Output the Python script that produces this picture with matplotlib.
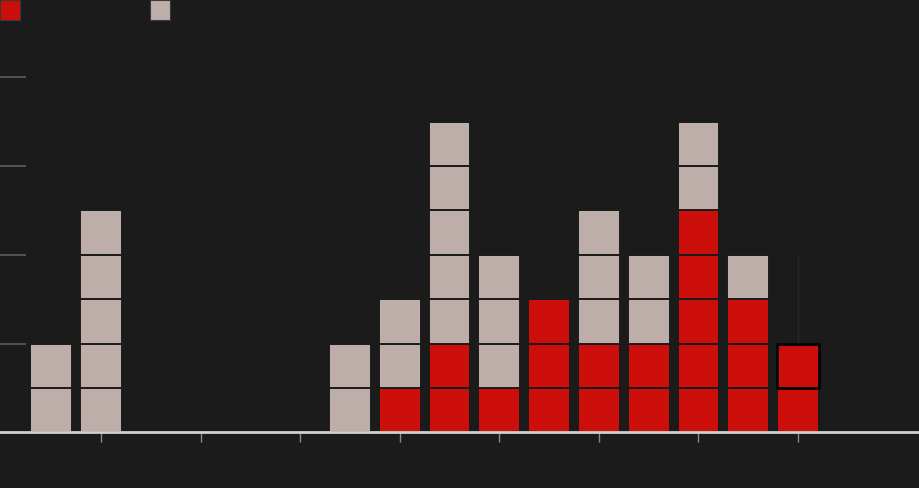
import matplotlib.pyplot as plt
from matplotlib.patches import Rectangle

BG = '#1b1b1b'
RED = '#cc0f0a'
GREY = '#bdaeaa'

# units per column (red stacked at bottom, grey on top)
columns = list(range(16))
red_units = [0, 0, 0, 0, 0, 0, 0, 1, 2, 1, 3, 2, 2, 5, 3, 2]
grey_units = [2, 5, 0, 0, 0, 0, 2, 2, 5, 3, 0, 3, 2, 2, 1, 0]
x_ticks = [1, 3, 5, 7, 9, 11, 13, 15]
y_ticks = [2, 4, 6, 8]
highlight = (15, 1)  # column, unit level


fig = plt.figure(figsize=(9.2, 4.88), dpi=100, facecolor=BG)
ax = fig.add_axes([0, 0, 1, 1], facecolor=BG)

for i in columns:
    for k in range(red_units[i] + grey_units[i]):
        color = RED if k < red_units[i] else GREY
        if (i, k) == highlight:
            ax.bar(i, 1, bottom=k, width=0.84, color=color,
                   edgecolor='#050505', linewidth=2, zorder=3)
        else:
            ax.bar(i, 1, bottom=k, width=0.84, color=color,
                   edgecolor=BG, linewidth=1.4, zorder=2)

ax.vlines(15, 2, 4, color='#282828', linewidth=1, zorder=1)

ax.set_xlim(-1.03, 17.45)
ax.set_ylim(-1.25, 9.74)

for side in ['top', 'right', 'left']:
    ax.spines[side].set_visible(False)
ax.spines['bottom'].set_position(('data', 0))
ax.spines['bottom'].set_color('#d0d0d0')
ax.spines['bottom'].set_linewidth(2)
ax.spines['bottom'].set_zorder(4)

ax.set_xticks(x_ticks)
ax.set_xticklabels([])
ax.tick_params(axis='x', direction='out', length=7.5, width=1, color='#8a8a8a')
ax.set_yticks(y_ticks)
ax.set_yticklabels([])
ax.tick_params(axis='y', direction='in', length=19, width=1.2, color='#5e5e5e')
ax.yaxis.get_major_ticks()[-1].tick1line.set_color('#b8aeac')

# legend swatches
fig.add_artist(Rectangle((0, 1 - 20 / 488), 20 / 920, 20 / 488,
                         transform=fig.transFigure, facecolor=RED,
                         edgecolor='#3a3a3a', linewidth=0.8))
fig.add_artist(Rectangle((150 / 920, 1 - 20 / 488), 20 / 920, 20 / 488,
                         transform=fig.transFigure, facecolor=GREY,
                         edgecolor='#3a3a3a', linewidth=0.8))

fig.savefig('out.png', dpi=100, facecolor=BG)
